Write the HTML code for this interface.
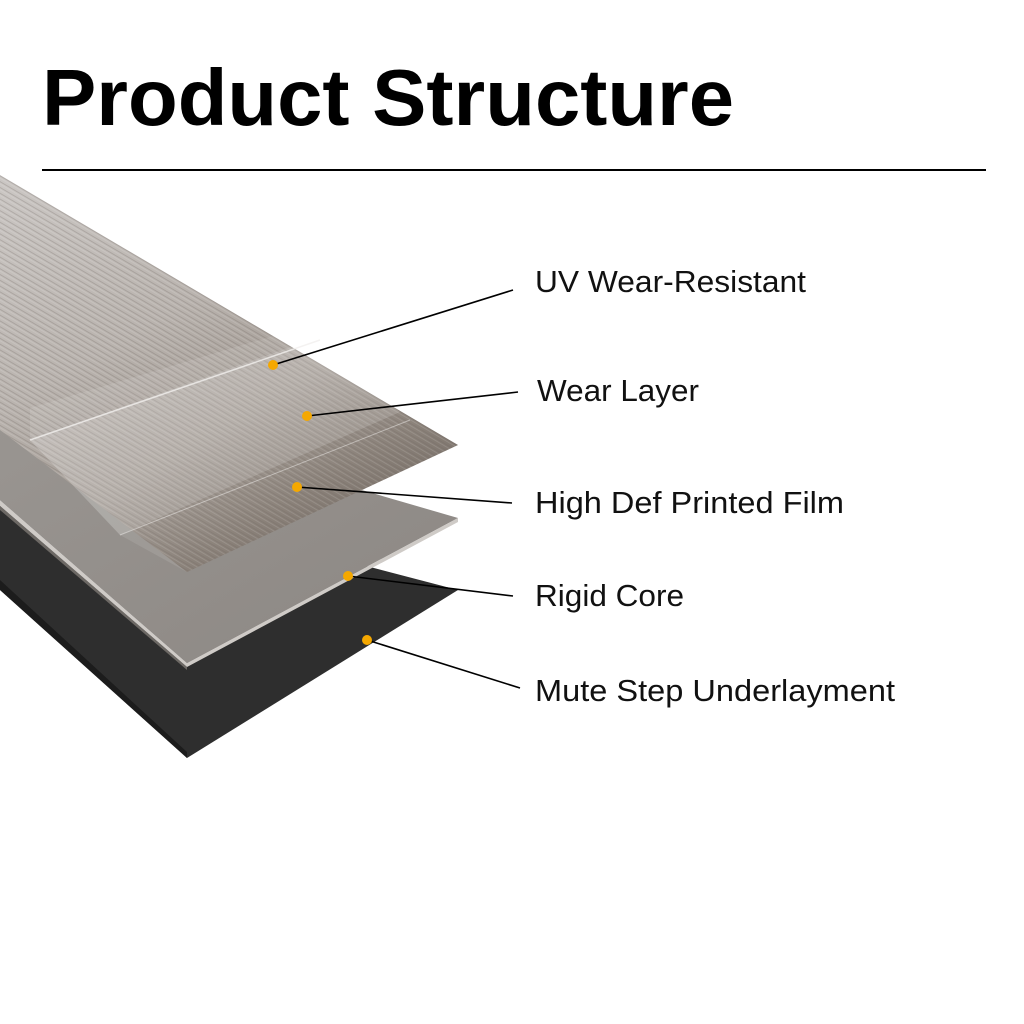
<!DOCTYPE html>
<html><head><meta charset="utf-8"><style>
html,body{margin:0;padding:0;background:#fff}
svg{display:block}
</style></head><body>
<svg width="1024" height="1024" viewBox="0 0 1024 1024" xmlns="http://www.w3.org/2000/svg">
<defs>
<linearGradient id="wood" x1="0" y1="0" x2="0.7" y2="1" gradientUnits="objectBoundingBox">
<stop offset="0" stop-color="#cbc7c4"/>
<stop offset="0.4" stop-color="#bab4af"/>
<stop offset="0.65" stop-color="#a39b94"/>
<stop offset="0.85" stop-color="#7e746b"/>
<stop offset="1" stop-color="#675d55"/>
</linearGradient>
<linearGradient id="core" x1="0" y1="0" x2="1" y2="1">
<stop offset="0" stop-color="#9a9692"/>
<stop offset="1" stop-color="#8c8783"/>
</linearGradient>
<pattern id="grain" width="460" height="5" patternUnits="userSpaceOnUse" patternTransform="rotate(30.5)">
<rect width="460" height="1" y="1" fill="#5a524c" opacity="0.22"/>
<rect width="460" height="1" y="3" fill="#ffffff" opacity="0.12"/>
</pattern>
</defs>
<text x="42" y="125" font-family="Liberation Sans, sans-serif" font-size="80" font-weight="bold" fill="#000" textLength="692" lengthAdjust="spacingAndGlyphs">Product Structure</text>
<rect x="42" y="169" width="944" height="2" fill="#000"/>

<polygon points="0,470 458,590 187,758 0,590" fill="#2e2e2e"/>
<polygon points="0,590 187,758 187,752 0,580" fill="#1c1c1c"/>
<polygon points="0,385 458,518 187,663 0,500" fill="url(#core)"/>
<polygon points="0,500 187,663 458,518 458,522 187,667 0,506" fill="#cfcbc7"/>
<polygon points="0,506 187,667 187,670 0,510" fill="#6d6965"/>
<polygon points="0,175 458,445 187,572 0,430" fill="url(#wood)"/>
<polygon points="0,175 458,445 187,572 0,430" fill="url(#grain)"/>
<polygon points="30,408 320,322 458,445 187,572 120,535 30,440" fill="#ffffff" opacity="0.1"/>
<polygon points="30,440 310,340 400,412 120,535" fill="#ffffff" opacity="0.14"/>
<line x1="30" y1="440" x2="320" y2="340" stroke="#f2f0ee" stroke-width="1.5" opacity="0.8"/>
<line x1="120" y1="535" x2="410" y2="420" stroke="#f2f0ee" stroke-width="1" opacity="0.5"/>

<g stroke="#000" stroke-width="1.6">
<line x1="273" y1="365" x2="513" y2="290"/>
<line x1="307" y1="416" x2="518" y2="392"/>
<line x1="297" y1="487" x2="512" y2="503"/>
<line x1="348" y1="576" x2="513" y2="596"/>
<line x1="367" y1="640" x2="520" y2="688"/>
</g>
<g fill="#f5a800">
<circle cx="273" cy="365" r="5"/>
<circle cx="307" cy="416" r="5"/>
<circle cx="297" cy="487" r="5"/>
<circle cx="348" cy="576" r="5"/>
<circle cx="367" cy="640" r="5"/>
</g>
<g font-family="Liberation Sans, sans-serif" font-size="31" fill="#111">
<text x="535" y="292" textLength="271" lengthAdjust="spacingAndGlyphs">UV Wear-Resistant</text>
<text x="537" y="401" textLength="162" lengthAdjust="spacingAndGlyphs">Wear Layer</text>
<text x="535" y="513" textLength="309" lengthAdjust="spacingAndGlyphs">High Def Printed Film</text>
<text x="535" y="606" textLength="149" lengthAdjust="spacingAndGlyphs">Rigid Core</text>
<text x="535" y="701" textLength="360" lengthAdjust="spacingAndGlyphs">Mute Step Underlayment</text>
</g>
</svg>
</body></html>
